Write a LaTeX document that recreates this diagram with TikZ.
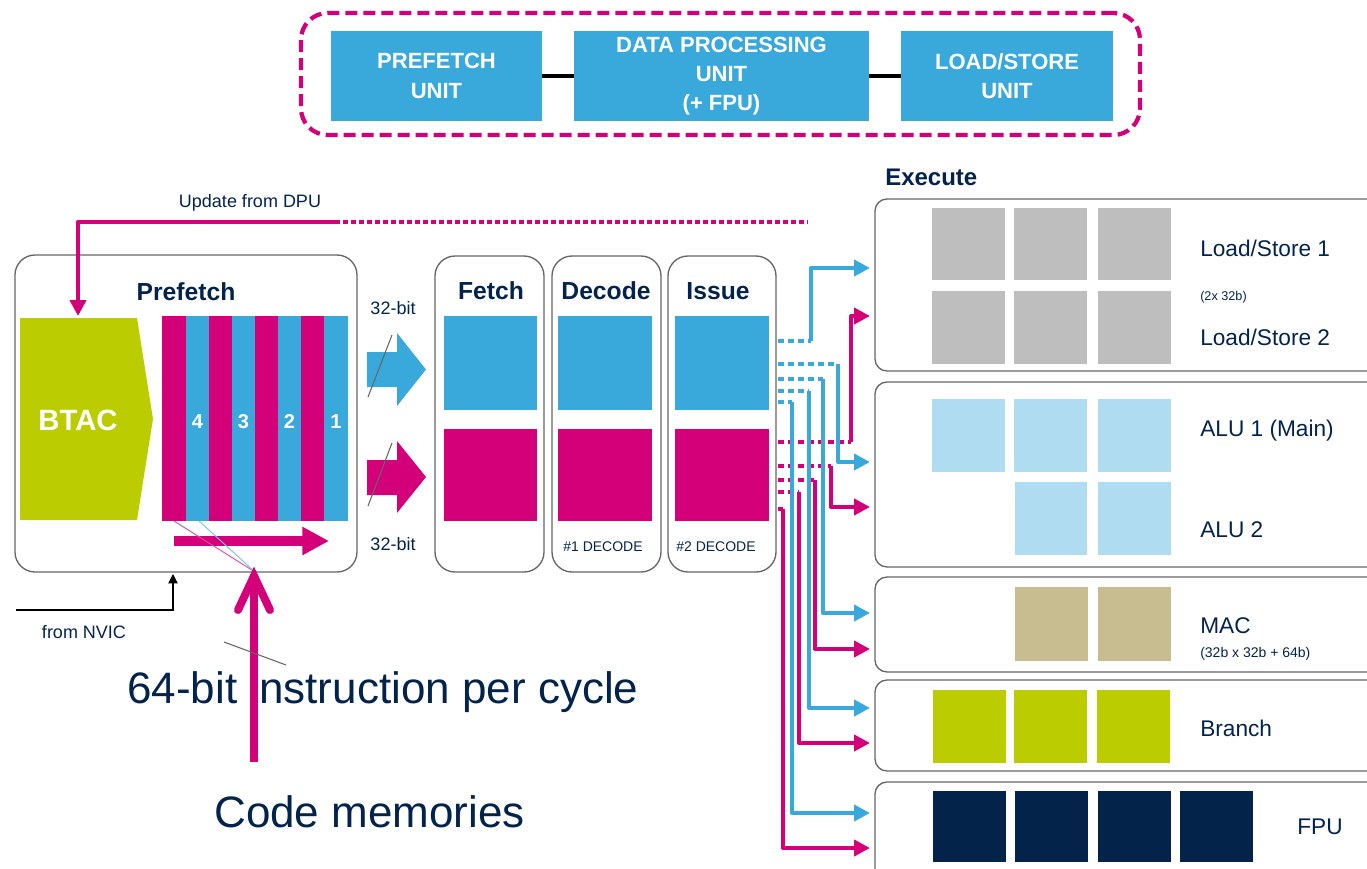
\documentclass[tikz,border=0pt]{standalone}
\usepackage{fontspec}
\setmainfont{Liberation Sans}
\usetikzlibrary{arrows.meta,calc}
\definecolor{stblue}{HTML}{39A9DC}
\definecolor{stpink}{HTML}{D4007A}
\definecolor{stlime}{HTML}{BBCC00}
\definecolor{stnavy}{HTML}{03234B}
\definecolor{stgray}{HTML}{BEBEBE}
\definecolor{stlight}{HTML}{B0DCF2}
\definecolor{sttan}{HTML}{C8BC91}
\definecolor{stedge}{HTML}{666666}
\newcommand{\pxbox}[7]{%
  \pgfmathsetmacro\cxx{(#3+#5)/2}\pgfmathsetmacro\cyy{(#4+#6)/2}%
  \pgfmathsetmacro\wdd{(#5-#3)*0.75}\pgfmathsetmacro\htt{(#6-#4)*0.75}%
  \node[#1,minimum width=\wdd pt,minimum height=\htt pt] (#2) at (\cxx,\cyy) {#7};}
\tikzset{
  x=0.75pt,y=-0.75pt,
  solidblk/.style={inner sep=0pt,outer sep=0pt,rectangle},
  topbox/.style={solidblk,fill=stblue,text=white,align=center,font=\bfseries\fontsize{16.5}{22}\selectfont},
  panel/.style={solidblk,draw=stedge,line width=1pt,rounded corners=15pt},
  execbox/.style={solidblk,draw=stedge,line width=1pt,rounded corners=9pt},
  navytext/.style={text=stnavy,inner sep=0pt},
  head/.style={navytext,font=\bfseries\fontsize{18.5}{22}\selectfont},
  label/.style={navytext,anchor=west,font=\fontsize{17}{20}\selectfont},
  bluewire/.style={draw=stblue,line width=3pt,line join=round},
  pinkwire/.style={draw=stpink,line width=3pt,line join=round},
  bluedot/.style={draw=stblue,line width=3pt,dash pattern=on 4.5pt off 3pt},
  pinkdot/.style={draw=stpink,line width=3pt,dash pattern=on 4.5pt off 3pt},
  tip/.style={-{Triangle[length=12pt,width=12pt]}},
  slash/.style={draw=stedge,line width=.8pt},
}
\begin{document}
\begin{tikzpicture}
\useasboundingbox (0,0) rectangle (1367,868);
\clip (0,0) rectangle (1367,868);
% top group
\pxbox{solidblk,draw=stpink,line width=3.2pt,dash pattern=on 9pt off 4.5pt,rounded corners=20pt}{group}{301}{13}{1140}{135}{}
\pxbox{topbox}{ptop}{331}{31}{542}{121}{PREFETCH\\UNIT}
\pxbox{topbox}{dtop}{574}{31}{869}{121}{DATA PROCESSING\\UNIT\\(+ FPU)}
\pxbox{topbox}{ltop}{901}{31}{1113}{121}{LOAD/STORE\\UNIT}
\draw[black,line width=3pt] (ptop) -- (dtop);
\draw[black,line width=3pt] (dtop) -- (ltop);
% panels
\pxbox{panel}{prefetch}{15}{255}{357}{572}{}
\pxbox{panel}{fetch}{435}{256}{544}{572}{}
\pxbox{panel}{decode}{552}{256}{661}{572}{}
\pxbox{panel}{issue}{668}{256}{776}{572}{}
\node[head] (prefetchL) at (186,292) {Prefetch};
\node[head] (fetchL) at (491,291) {Fetch};
\node[head] (decodeL) at (606,291) {Decode};
\node[head] (issueL) at (718,291) {Issue};
% BTAC
\fill[stlime] (20,318) -- (137,318) -- (153,419) -- (137,520) -- (20,520) -- cycle;
\node[text=white,inner sep=0pt,font=\bfseries\fontsize{22}{26}\selectfont] (btac) at (78,420) {BTAC};
% stripes
\pxbox{solidblk,fill=stpink}{s1}{162}{316}{186}{521}{}
\pxbox{solidblk,fill=stblue}{s2}{186}{316}{209}{521}{}
\pxbox{solidblk,fill=stpink}{s3}{209}{316}{232}{521}{}
\pxbox{solidblk,fill=stblue}{s4}{232}{316}{255}{521}{}
\pxbox{solidblk,fill=stpink}{s5}{255}{316}{278}{521}{}
\pxbox{solidblk,fill=stblue}{s6}{278}{316}{301}{521}{}
\pxbox{solidblk,fill=stpink}{s7}{301}{316}{324}{521}{}
\pxbox{solidblk,fill=stblue}{s8}{324}{316}{348}{521}{}
\foreach \n/\t in {s2/4,s4/3,s6/2,s8/1}
  \node[text=white,inner sep=0pt,font=\bfseries\fontsize{15}{18}\selectfont] (num\t) at ($(\n.center)+(0,3)$) {\t};
% update line
\node[navytext,font=\fontsize{13.5}{16}\selectfont] (upd) at (250,203) {Update from DPU};
\coordinate (updA) at (335,222);
\coordinate (updB) at (808,222);
\coordinate (btacTop) at (78,316);
\draw[pinkwire,dash pattern=on 3.5pt off 2.5pt] (updA) -- (updB);
\draw[pinkwire,tip] (updA) -| (btacTop);
% shift arrow
\coordinate (shA) at (174,541);
\coordinate (shB) at (329,541);
\draw[stpink,line width=7pt,-{Triangle[length=20pt,width=20pt]}] (shA) -- (shB);
% fan lines
\coordinate (fan) at (255,572);
\draw[stpink!70,line width=.7pt] (174,521) -- (fan);
\draw[stblue!70,line width=.7pt] (199,521) -- (fan);
% NVIC
\coordinate (nvicA) at (16,610);
\coordinate (nvicB) at (173,574);
\draw[black,line width=.8pt,-{Triangle[length=7pt,width=7pt]}] (nvicA) -| (nvicB);
\node[navytext,font=\fontsize{13.5}{16}\selectfont] (nvicL) at (84,632) {from NVIC};
% texts
\node[navytext,anchor=west,font=\fontsize{33}{38}\selectfont] (bit64) at (127,692) {64-bit instruction per cycle};
\node[navytext,anchor=west,font=\fontsize{33}{38}\selectfont] (code) at (214,812) {Code memories};
% big arrow
\coordinate (codeA) at (254,762);
\coordinate (codeB) at (254,574);
\draw[stpink,line width=6pt] (codeA) -- (codeB);
\draw[stpink,line width=6pt,line cap=round,line join=miter] (238,610) -- (254,576) -- (270,610);
\draw[slash] (224,642) -- (286,665);
% 32-bit
\node[navytext,font=\fontsize{13.5}{16}\selectfont] (b32a) at (393,308) {32-bit};
\node[navytext,font=\fontsize{13.5}{16}\selectfont] (b32b) at (393,544) {32-bit};
\fill[stblue] (367,352) -- (397,352) -- (397,333) -- (426,369.5) -- (397,406) -- (397,387) -- (367,387) -- cycle;
\fill[stpink] (367,460) -- (397,460) -- (397,441) -- (426,477) -- (397,513) -- (397,495) -- (367,495) -- cycle;
\draw[slash] (392,335) -- (368,397);
\draw[slash] (392,443) -- (368,506);
% pipeline blocks
\pxbox{solidblk,fill=stblue}{fb}{444}{316}{537}{410}{}
\pxbox{solidblk,fill=stpink}{fp}{444}{429}{537}{521}{}
\pxbox{solidblk,fill=stblue}{db}{558}{316}{652}{410}{}
\pxbox{solidblk,fill=stpink}{dp}{558}{429}{652}{521}{}
\pxbox{solidblk,fill=stblue}{ib}{675}{316}{769}{410}{}
\pxbox{solidblk,fill=stpink}{ip}{675}{429}{769}{521}{}
\node[navytext,font=\fontsize{10.5}{12}\selectfont] (d1) at (603,547) {\#1 DECODE};
\node[navytext,font=\fontsize{10.5}{12}\selectfont] (d2) at (716,547) {\#2 DECODE};
% execute
\node[head,anchor=west,font=\bfseries\fontsize{18}{22}\selectfont] (exec) at (885,177) {Execute};
\pxbox{execbox}{ls}{875}{199}{1390}{371}{}
\pxbox{execbox}{alu}{875}{382}{1390}{567}{}
\pxbox{execbox}{mac}{875}{577}{1390}{672}{}
\pxbox{execbox}{br}{875}{680}{1390}{771}{}
\pxbox{execbox}{fpu}{875}{782}{1390}{890}{}
\foreach \a/\xa/\xb in {1/932/1005,2/1014/1087,3/1098/1171}{
  \pxbox{solidblk,fill=stgray}{ga\a}{\xa}{208}{\xb}{280}{}
  \pxbox{solidblk,fill=stgray}{gb\a}{\xa}{291}{\xb}{364}{}
  \pxbox{solidblk,fill=stlight}{la\a}{\xa}{399}{\xb}{472}{}
}
\pxbox{solidblk,fill=stlight}{lb2}{1015}{482}{1087}{555}{}
\pxbox{solidblk,fill=stlight}{lb3}{1098}{482}{1171}{555}{}
\pxbox{solidblk,fill=sttan}{t1}{1015}{587}{1088}{661}{}
\pxbox{solidblk,fill=sttan}{t2}{1098}{587}{1171}{661}{}
\pxbox{solidblk,fill=stlime}{l1}{933}{690}{1006}{763}{}
\pxbox{solidblk,fill=stlime}{l2}{1014}{690}{1087}{763}{}
\pxbox{solidblk,fill=stlime}{l3}{1097}{690}{1170}{763}{}
\pxbox{solidblk,fill=stnavy}{n1}{933}{791}{1006}{862}{}
\pxbox{solidblk,fill=stnavy}{n2}{1015}{791}{1088}{862}{}
\pxbox{solidblk,fill=stnavy}{n3}{1098}{791}{1171}{862}{}
\pxbox{solidblk,fill=stnavy}{n4}{1180}{791}{1253}{862}{}
\node[label] (ls1) at (1200,248) {Load/Store 1};
\node[label,font=\fontsize{9.5}{12}\selectfont] (ls0) at (1200,297) {(2x 32b)};
\node[label] (ls2) at (1200,337) {Load/Store 2};
\node[label] (alu1) at (1200,431) {ALU 1 (Main)};
\node[label] (alu2) at (1200,530) {ALU 2};
\node[label] (macL) at (1200,626) {MAC};
\node[label,font=\fontsize{10.5}{12}\selectfont] (macS) at (1200,654) {(32b x 32b + 64b)};
\node[label] (brL) at (1200,728) {Branch};
\node[label] (fpuL) at (1297,827) {FPU};
% issue connectors: dotted stub, solid run, arrow
\foreach \n/\y/\xa/\xb in {
 b1/341/778/811, b2/364/778/838, b3/379/778/823, b4/391/778/809, b5/402/778/792,
 p1/442/778/851, p2/466/778/831, p3/480/778/815, p4/492/778/799}{
  \coordinate (\n s) at (\xa,\y);
  \coordinate (\n k) at (\xb,\y);
}
\coordinate (b1t) at (870,268);
\coordinate (b2t) at (870,462);
\coordinate (b3t) at (870,613);
\coordinate (b4t) at (870,708);
\coordinate (b5t) at (870,813);
\coordinate (p1t) at (870,316);
\coordinate (p2t) at (870,507);
\coordinate (p3t) at (870,649);
\coordinate (p4t) at (870,743);
\coordinate (p5s) at (778,509);
\coordinate (p5k) at (783,509);
\coordinate (p5t) at (870,848);
\foreach \n in {p1,p2,p3,p4}{
  \draw[pinkdot] (\n s) -- (\n k);
  \draw[pinkwire,tip] (\n k) |- (\n t);
}
\draw[pinkwire] (p5s) -- (p5k);
\draw[pinkwire,tip] (p5k) |- (p5t);
\foreach \n in {b1,b2,b3,b4,b5}{
  \draw[bluedot] (\n s) -- (\n k);
  \draw[bluewire,tip] (\n k) |- (\n t);
}
\end{tikzpicture}
\end{document}
